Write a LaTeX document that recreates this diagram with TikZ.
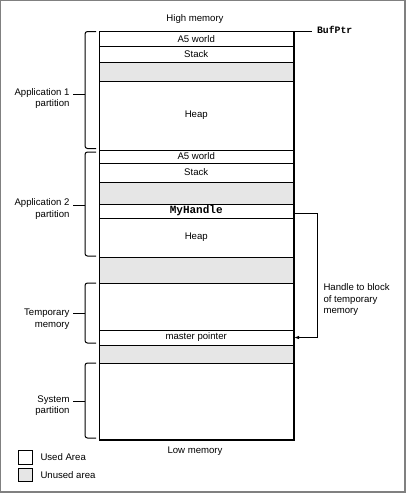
\documentclass[tikz,border=0pt]{standalone}
\usepackage{fontspec}
\setmainfont{Liberation Sans}
\newfontfamily\monofnt{Liberation Mono}
\usetikzlibrary{arrows.meta}
\definecolor{unused}{RGB}{230,230,230}
\definecolor{framegray}{RGB}{128,128,128}
\begin{document}
\begin{tikzpicture}[x=1pt,y=-1pt,line width=1pt,
  txt/.style={font=\fontsize{9.6}{11.5}\selectfont, inner sep=0pt},
  band/.style={draw, line width=1pt, minimum width=194.5pt, inner sep=0pt, anchor=north west, font=\fontsize{9.6}{11.5}\selectfont},
  gap/.style={band, fill=unused},
  mono/.style={font=\monofnt\bfseries\fontsize{9.8}{12}\selectfont},
  brace/.style={draw, line width=1pt, rounded corners=2.5pt},
  lbl/.style={txt, align=right, anchor=east},
  legendbox/.style={draw, line width=1pt, minimum width=13.5pt, minimum height=13.5pt, inner sep=0pt, anchor=north west}]
% frame
\fill[framegray] (0,0) rectangle (406,493);
\fill[white] (1,1) rectangle (404,490.5);
\useasboundingbox (0,0) rectangle (406,493);
% column bands
\node[band, minimum height=14.5pt] (b1) at (98.5,31) {A5 world};
\node[band, minimum height=16.5pt] (b2) at (98.5,45.5) {Stack};
\node[gap,  minimum height=18.5pt] (b3) at (98.5,62) {};
\node[band, minimum height=69pt]   (b4) at (98.5,80.5) {Heap};
\node[band, minimum height=13pt]   (b5) at (98.5,149.5) {A5 world};
\node[band, minimum height=19pt]   (b6) at (98.5,162.5) {Stack};
\node[gap,  minimum height=22pt]   (b7) at (98.5,181.5) {};
\node[band, minimum height=14pt, font=\monofnt\bfseries\fontsize{11}{12}\selectfont] (b8) at (98.5,203.5) {MyHandle};
\node[band, minimum height=39pt]   (b9) at (98.5,217.5) {Heap};
\node[gap,  minimum height=26pt]   (b10) at (98.5,256.5) {};
\node[band, minimum height=47pt]   (b11) at (98.5,282.5) {};
\node[band, minimum height=15pt]   (b12) at (98.5,329.5) {master pointer};
\node[gap,  minimum height=18pt]   (b13) at (98.5,344.5) {};
\node[band, minimum height=76.5pt] (b14) at (98.5,362.5) {};
% thick right and bottom edges
\draw[line width=2pt] (b1.north east) -- (b14.south east) -- (b14.south west);
% high / low memory
\node[txt] (hi) at (195,19) {High memory};
\node[txt] (lo) at (195,451.5) {Low memory};
% BufPtr
\coordinate (bp) at (312,31);
\draw (b1.north east) -- (bp);
\node[mono, anchor=west, inner sep=0pt] (bpl) at (316.5,29.5) {BufPtr};
% handle connector
\coordinate (h1) at (317,213);
\draw[-{Latex[length=5pt,width=3.5pt]}] (b8.east |- h1) -- (h1) |- (b12.east);
\node[txt, align=left, anchor=west] (hl) at (323,300) {Handle to block\\of temporary\\memory};
% braces
\draw[brace] (96,31.5) -- (85,31.5) -- (85,148.5) -- (96,148.5);
\draw (85,94.5) -- (73,94.5);
\node[lbl] (l1) at (70,98.5) {Application 1\\partition};
\draw[brace] (96,152) -- (85,152) -- (85,256) -- (96,256);
\draw (85,205) -- (73,205);
\node[lbl] (l2) at (70,209) {Application 2\\partition};
\draw[brace] (96,283) -- (85,283) -- (85,343) -- (96,343);
\draw (85,313) -- (73,313);
\node[lbl] (l3) at (70,319) {Temporary\\memory};
\draw[brace] (96,363) -- (85,363) -- (85,438) -- (96,438);
\draw (85,401) -- (73,401);
\node[lbl] (l4) at (70,405.5) {System\\partition};
% legend
\node[legendbox] (u1) at (18,450) {};
\node[txt, anchor=west, xshift=7.5pt] (u1t) at (u1.east) {Used Area};
\node[legendbox, fill=unused] (u2) at (18,467.5) {};
\node[txt, anchor=west, xshift=7.5pt] (u2t) at (u2.east) {Unused area};
\end{tikzpicture}
\end{document}
